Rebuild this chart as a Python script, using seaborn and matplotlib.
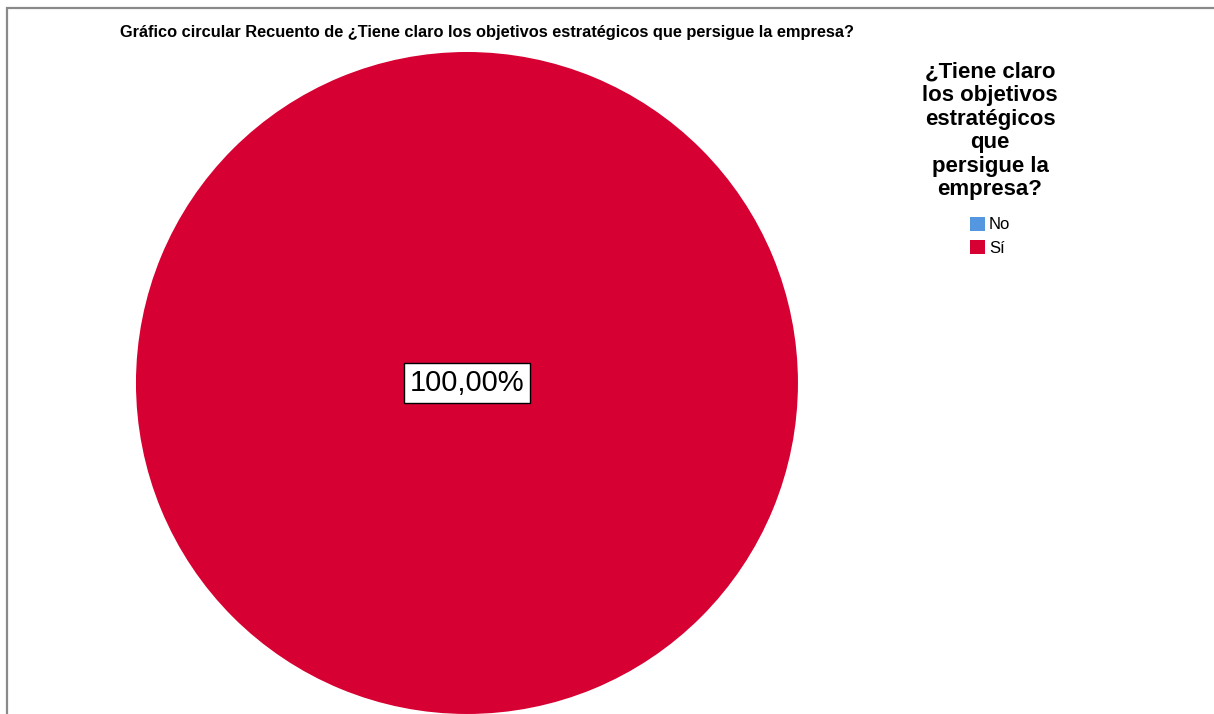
import matplotlib
matplotlib.use("Agg")
import matplotlib.pyplot as plt
import seaborn as sns
from matplotlib.patches import Patch, Rectangle

# datos (recuento por categoría)
categorias = ["No", "Sí"]
recuentos = [0, 20]
colores = ["#5596e0", "#d60032"]

titulo = "Gráfico circular Recuento de ¿Tiene claro los objetivos estratégicos que persigue la empresa?"
titulo_leyenda = "¿Tiene claro\nlos objetivos\nestratégicos\nque\npersigue la\nempresa?"

sns.set_theme(style="white")
plt.rcParams['font.family'] = ['Liberation Sans', 'DejaVu Sans']
plt.rcParams['text.color'] = 'black'

fig = plt.figure(figsize=(12.14, 7.14), dpi=100)
fig.patch.set_facecolor("white")

# marco gris del visor
fig.add_artist(Rectangle((7 / 1214, -0.1), 1.2, (714 - 8) / 714 + 0.1,
                         transform=fig.transFigure, fill=False,
                         edgecolor="#8a8a8a", linewidth=1.6))

ax = fig.add_axes([0.1120, 0.0, 0.5453, 0.9272])


def etiqueta(p):
    return f"{p:.2f}%".replace(".", ",") if p > 0 else ""


wedges, textos, autotextos = ax.pie(recuentos, colors=colores, startangle=90,
                                    counterclock=False, autopct=etiqueta,
                                    pctdistance=0.0,
                                    wedgeprops=dict(linewidth=0))
for t in autotextos:
    t.set_fontsize(21)
    t.set_color("black")
    t.set_bbox(dict(facecolor="white", edgecolor="black", boxstyle="square,pad=0.2", linewidth=1))
ax.set_xlim(-1, 1)
ax.set_ylim(-1, 1)
ax.set_aspect("equal")
ax.axis("off")

fig.text(120 / 1214, 1 - 33 / 714, titulo, fontsize=11.8, fontweight="bold",
         ha="left", va="center", color="black")

fig.text(990 / 1214, 1 - 62 / 714, titulo_leyenda, fontsize=16, fontweight="bold",
         ha="center", va="top", linespacing=1.15, color="black")

handles = [Patch(facecolor=c, edgecolor="none") for c in colores]
leg = fig.legend(handles, categorias, loc="upper left",
                 bbox_to_anchor=(963 / 1214, 1 - 210 / 714),
                 frameon=False, fontsize=12, handlelength=0.9, handleheight=0.9,
                 handletextpad=0.25, labelspacing=0.45, borderaxespad=0)
for t in leg.get_texts():
    t.set_color("black")

fig.savefig("out.png", dpi=100, facecolor="white")
